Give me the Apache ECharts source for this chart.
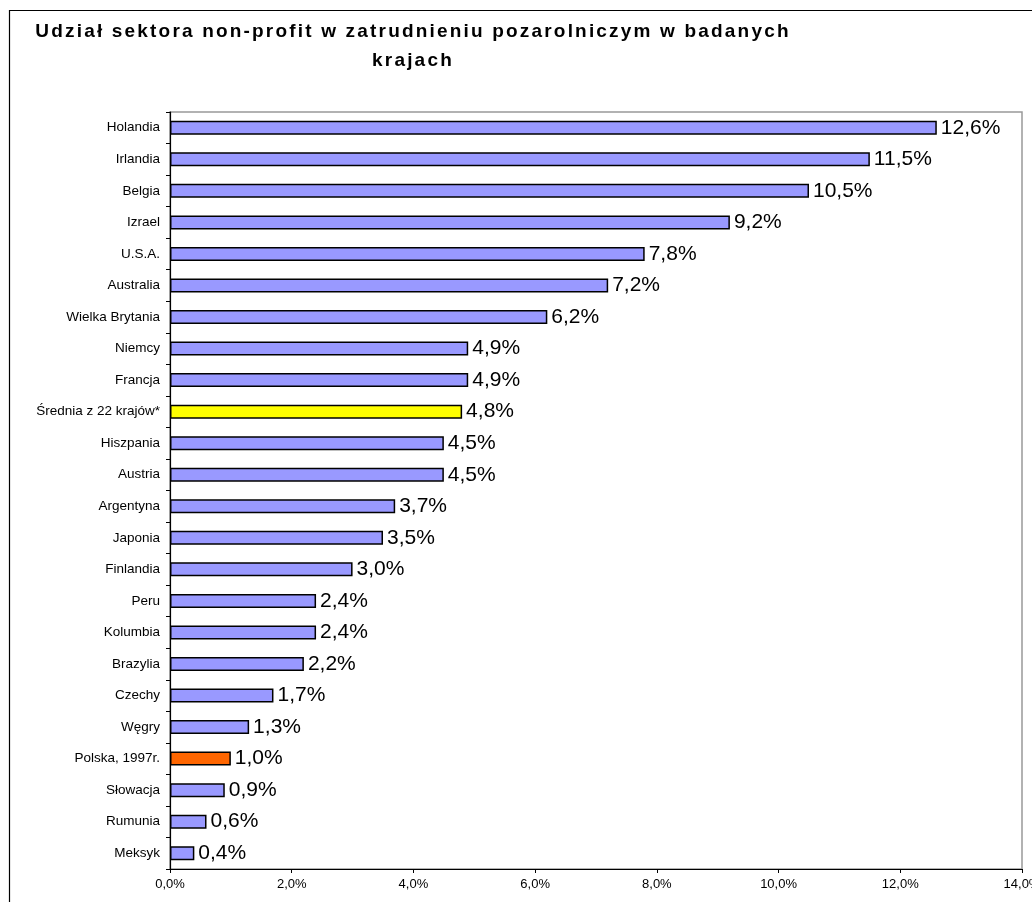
<!DOCTYPE html>
<html>
<head>
<meta charset="utf-8">
<script src="https://cdn.jsdelivr.net/npm/echarts@6/dist/echarts.min.js"></script>
<style>
  html, body { margin: 0; padding: 0; background: #fff; overflow: hidden; }
  #wrap { position: relative; width: 1032px; height: 902px; }
  #chart { width: 1032px; height: 902px; }
  #title {
    position: absolute; left: 0; top: 16px; width: 826px;
    text-align: center; font-family: 'Liberation Sans', Arial, sans-serif;
    font-weight: bold; font-size: 19px; line-height: 29px; letter-spacing: 0.115em;
    color: #000;
  }
</style>
</head>
<body>
<div id="wrap">
  <div id="chart"></div>
  <div id="title">Udział sektora non-profit w zatrudnieniu pozarolniczym w badanych<br>krajach</div>
</div>
<script>
var countries = ['Holandia', 'Irlandia', 'Belgia', 'Izrael', 'U.S.A.', 'Australia', 'Wielka Brytania',
    'Niemcy', 'Francja', 'Średnia z 22 krajów*', 'Hiszpania', 'Austria', 'Argentyna', 'Japonia',
    'Finlandia', 'Peru', 'Kolumbia', 'Brazylia', 'Czechy', 'Węgry', 'Polska, 1997r.', 'Słowacja',
    'Rumunia', 'Meksyk'];
var shares = [12.6, 11.5, 10.5, 9.2, 7.8, 7.2, 6.2, 4.9, 4.9, 4.8, 4.5, 4.5, 3.7, 3.5,
    3.0, 2.4, 2.4, 2.2, 1.7, 1.3, 1.0, 0.9, 0.6, 0.4];
var xTicks = [0, 2, 4, 6, 8, 10, 12, 14];

var chart = echarts.init(document.getElementById('chart'));

function pct(v) {
    return v.toFixed(1).replace('.', ',') + '%';
}

// kolory wyróżnionych słupków
function barColor(name) {
    if (name === 'Średnia z 22 krajów*') return '#FFFF00';
    if (name === 'Polska, 1997r.') return '#FF6600';
    return '#9999FF';
}

chart.setOption({
    animation: false,
    textStyle: { fontFamily: 'Liberation Sans, Arial, sans-serif' },
    graphic: [{
        type: 'rect',
        shape: { x: 9.5, y: 10.5, width: 1040, height: 900 },
        style: { fill: 'none', stroke: '#000', lineWidth: 1.2 },
        silent: true
    }],
    grid: {
        left: 170,
        right: 10,
        top: 112,
        bottom: 33,
        outerBoundsMode: 'none',
        containLabel: false,
        show: true,
        borderColor: '#999',
        borderWidth: 1.5
    },
    xAxis: {
        type: 'value',
        min: xTicks[0],
        max: xTicks[xTicks.length - 1],
        interval: 2,
        splitLine: { show: false },
        axisLine: { show: true, lineStyle: { color: '#000', width: 1.2 } },
        axisTick: { show: true, length: 4, lineStyle: { color: '#000' } },
        axisLabel: {
            color: '#000',
            fontSize: 13,
            margin: 9,
            formatter: function (v) { return pct(v); }
        }
    },
    yAxis: {
        type: 'category',
        inverse: true,
        data: countries,
        axisLine: { show: true, lineStyle: { color: '#000', width: 1.2 } },
        axisTick: { show: true, length: 4, lineStyle: { color: '#000' } },
        axisLabel: { color: '#000', fontSize: 13.5, margin: 10 }
    },
    series: [{
        type: 'bar',
        barWidth: 14,
        data: shares.map(function (v, i) {
            return { value: v, itemStyle: { color: barColor(countries[i]) } };
        }),
        itemStyle: { borderColor: '#000', borderWidth: 1.5 },
        label: {
            show: true,
            position: 'right',
            distance: 4,
            color: '#000',
            fontSize: 21,
            formatter: function (p) { return pct(p.value); }
        }
    }]
});
</script>
</body>
</html>
